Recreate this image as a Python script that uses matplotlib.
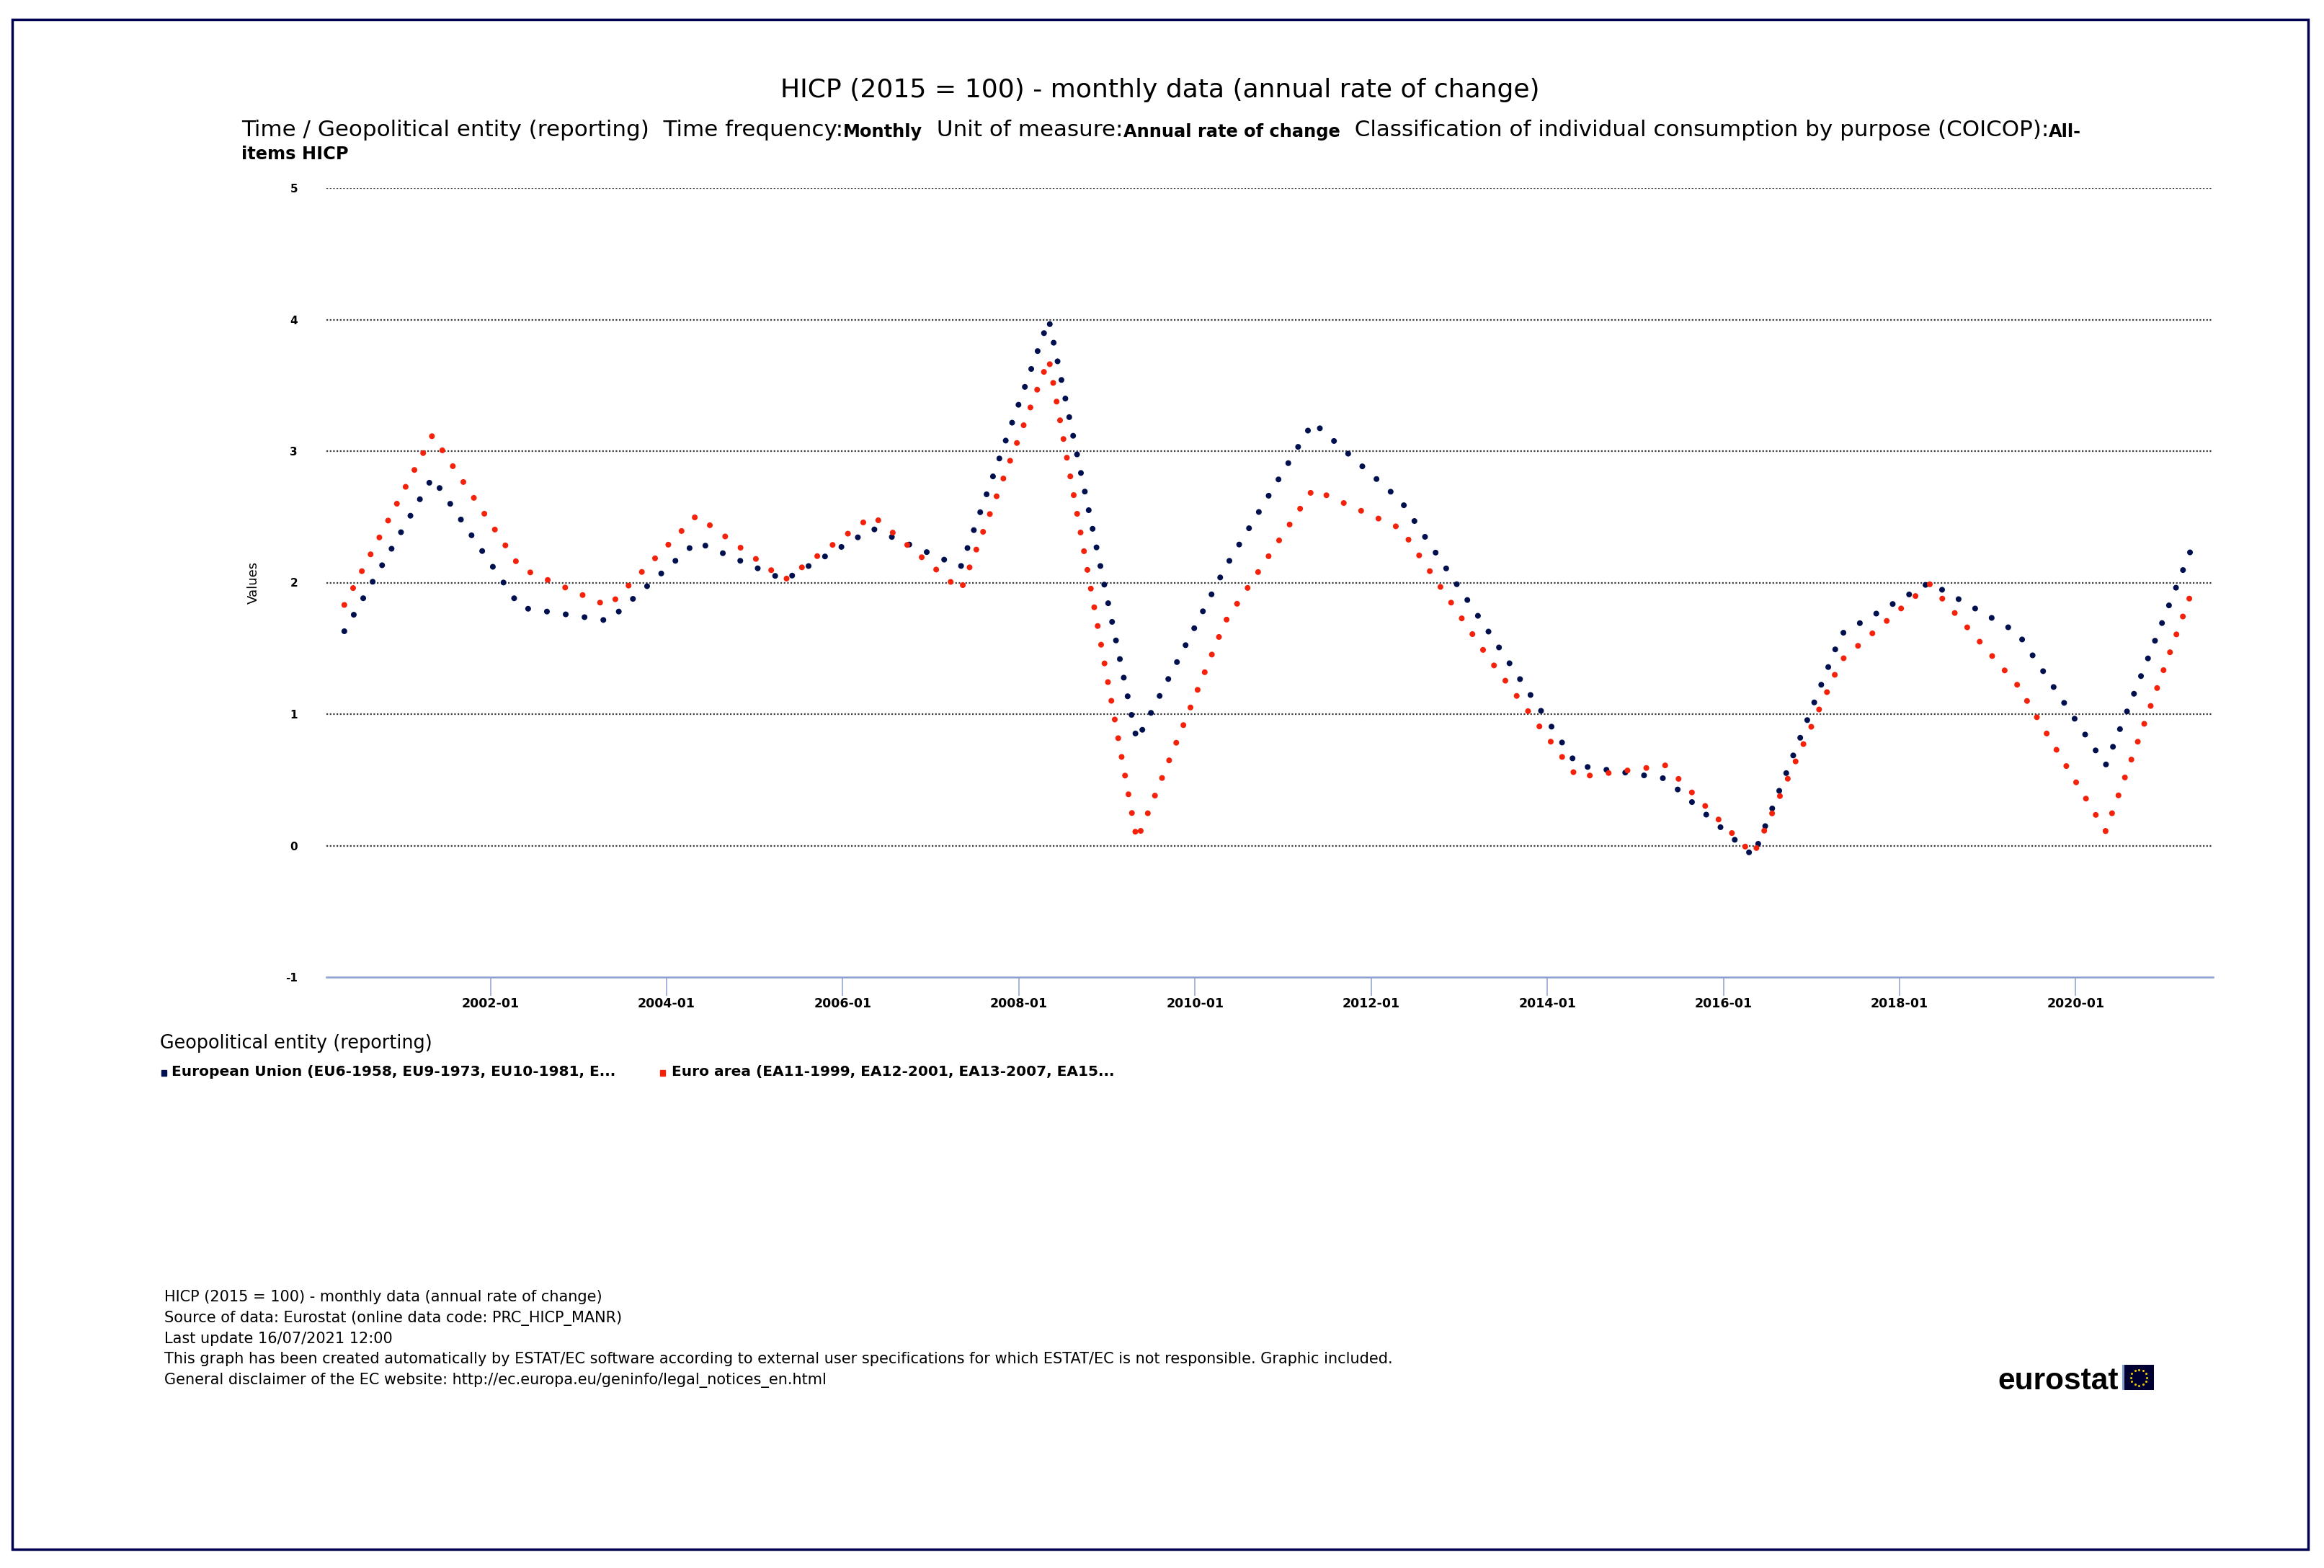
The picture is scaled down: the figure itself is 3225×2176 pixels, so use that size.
import matplotlib
matplotlib.use("Agg")
import matplotlib.pyplot as plt
from matplotlib.patches import Rectangle
from matplotlib.lines import Line2D
import numpy as np

# HICP annual rate of change, one reading per year (May)
years = [2000, 2001, 2002, 2003, 2004, 2005, 2006, 2007, 2008, 2009, 2010,
         2011, 2012, 2013, 2014, 2015, 2016, 2017, 2018, 2019, 2020, 2021]
eu_rate = [1.63, 2.80, 1.81, 1.71, 2.31, 2.02, 2.41, 2.12, 4.00, 0.80, 2.11,
           3.22, 2.62, 1.62, 0.61, 0.51, -0.08, 1.61, 2.00, 1.62, 0.61, 2.30]
ea_rate = [1.83, 3.12, 2.11, 1.82, 2.51, 2.02, 2.51, 1.94, 3.70, 0.04, 1.70,
           2.71, 2.41, 1.42, 0.52, 0.61, -0.07, 1.41, 1.99, 1.22, 0.11, 1.97]

x_ticks = [2002, 2004, 2006, 2008, 2010, 2012, 2014, 2016, 2018, 2020]
x_tick_labels = ["2002-01", "2004-01", "2006-01", "2008-01", "2010-01",
                 "2012-01", "2014-01", "2016-01", "2018-01", "2020-01"]
y_ticks = [-1, 0, 1, 2, 3, 4, 5]

eu_name = "European Union (EU6-1958, EU9-1973, EU10-1981, E..."
ea_name = "Euro area (EA11-1999, EA12-2001, EA13-2007, EA15..."

footer_lines = [
    "HICP (2015 = 100) - monthly data (annual rate of change)",
    "Source of data: Eurostat (online data code: PRC_HICP_MANR)",
    "Last update 16/07/2021 12:00",
    "This graph has been created automatically by ESTAT/EC software according to external user specifications for which ESTAT/EC is not responsible. Graphic included.",
    "General disclaimer of the EC website: http://ec.europa.eu/geninfo/legal_notices_en.html",
]

EU_COLOR = "#00104f"
EA_COLOR = "#f4210b"
AXIS_BLUE = "#8c9fd0"

W, H = 3225, 2176
fig = plt.figure(figsize=(W / 100, H / 100), dpi=100)
fig.patch.set_facecolor("white")


def fx(px):
    return px / W


def fy(py):
    # py measured from the top of the image
    return 1 - py / H


# plot area
ax = fig.add_axes([fx(453), fy(1356), fx(3071) - fx(453), fy(261) - fy(1356)])
x_pos = np.array(years) + 0.34
dots = (0, (0.01, 3.265))
ax.plot(x_pos, eu_rate, color=EU_COLOR, lw=5.8, linestyle=dots,
        dash_capstyle="round", zorder=3)
ax.plot(x_pos, ea_rate, color=EA_COLOR, lw=5.8, linestyle=dots,
        dash_capstyle="round", zorder=4)

ax.set_xlim(2000.137, 2021.56)
ax.set_ylim(-1, 5)
ax.set_yticks(y_ticks)
ax.set_yticklabels([str(v) for v in y_ticks], fontsize=11, fontweight="bold")
ax.set_xticks(x_ticks)
ax.set_xticklabels(x_tick_labels, fontsize=12.5, fontweight="bold")

ax.grid(axis="y", color="#3c3c3c", lw=1.6, linestyle=(0, (1, 1.1)))
ax.get_ygridlines()[0].set_visible(False)
ax.set_axisbelow(True)

for s in ["top", "right", "left"]:
    ax.spines[s].set_visible(False)
ax.spines["bottom"].set_color(AXIS_BLUE)
ax.spines["bottom"].set_linewidth(1.8)
ax.tick_params(axis="x", direction="out", length=18.7, width=1.1,
               color=AXIS_BLUE, pad=1.5)
ax.tick_params(axis="y", length=0, pad=28.8)

fig.text(fx(352), fy(808), "Values", rotation=90, ha="center", va="center",
         fontsize=13)

# title and subtitle
fig.text(fx(1610), fy(135), "HICP (2015 = 100) - monthly data (annual rate of change)",
         ha="center", va="baseline", fontsize=26)

pieces = [
    ("Time / Geopolitical entity (reporting)  Time frequency:", "normal", 22.3),
    ("Monthly", "bold", 17.4),
    ("  Unit of measure:", "normal", 22.3),
    ("Annual rate of change", "bold", 17.4),
    ("  Classification of individual consumption by purpose (COICOP):", "normal", 22.3),
    ("All-", "bold", 17.4),
]
prev = fig.text(fx(335), fy(195), pieces[0][0], fontweight=pieces[0][1],
                fontsize=pieces[0][2], ha="left", va="bottom")
for txt, weight, size in pieces[1:]:
    prev = fig.add_artist(matplotlib.text.Annotation(
        txt, xy=(1, 0), xycoords=prev, ha="left", va="bottom",
        fontweight=weight, fontsize=size))
fig.text(fx(335), fy(221), "items HICP", fontweight="bold", fontsize=17.4,
         ha="left", va="baseline")

# legend block
fig.text(fx(222), fy(1455), "Geopolitical entity (reporting)", fontsize=18.4,
         ha="left", va="baseline")
for mx, tx, name, col in [(224, 238, eu_name, EU_COLOR), (916, 932, ea_name, EA_COLOR)]:
    fig.add_artist(Rectangle((fx(mx), fy(1493)), fx(7), 8 / H, color=col,
                             transform=fig.transFigure))
    fig.text(fx(tx), fy(1493), name, fontsize=14.5, fontweight="bold",
             ha="left", va="baseline")

# footer
for i, line in enumerate(footer_lines):
    fig.text(fx(228), fy(1806 + i * 28.8), line, fontsize=15,
             ha="left", va="baseline")

# eurostat logo
fig.text(fx(2772), fy(1928), "eurostat", fontsize=30.5, fontweight="bold",
         family=["Liberation Sans", "DejaVu Sans"], ha="left", va="baseline")
fig.add_artist(Rectangle((fx(2945), fy(1929)), fx(44), 35 / H, facecolor="#000033",
                         edgecolor="none", transform=fig.transFigure))
fig.add_artist(Rectangle((fx(2945), fy(1929)), fx(2.5), 35 / H, facecolor="#7b9ccc",
                         edgecolor="none", transform=fig.transFigure))
ang = np.linspace(0, 2 * np.pi, 13)[:-1]
fig.add_artist(Line2D(fx(2968 + 11 * np.cos(ang)), fy(1911.5 + 11 * np.sin(ang)),
                      ls="none", marker="o", ms=2.2, mew=0, color="#e8c800",
                      transform=fig.transFigure))

# outer frame
fig.add_artist(Rectangle((fx(16.7), fy(2149.6)), fx(3203 - 16.7), (2149.6 - 26.7) / H,
                         fill=False, edgecolor="#000050", lw=2.5,
                         transform=fig.transFigure))

fig.savefig("out.png", dpi=100, facecolor="white")
